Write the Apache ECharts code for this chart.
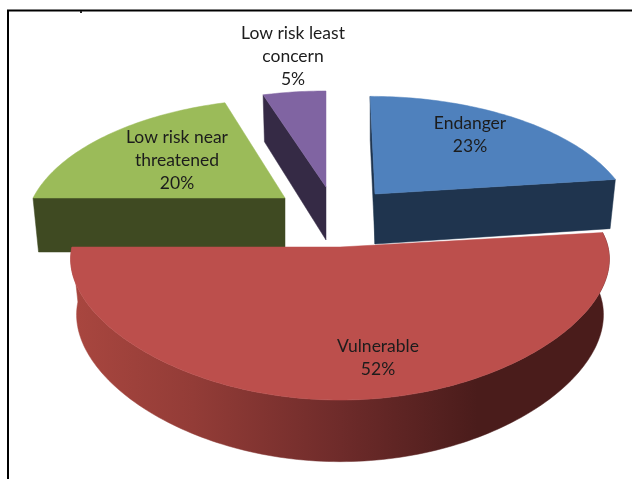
<!DOCTYPE html>
<html>
<head>
<meta charset="utf-8">
<style>html,body{margin:0;padding:0;background:#fff}#chart{width:632px;height:479px}</style>
<script src="https://cdn.jsdelivr.net/npm/echarts@6/dist/echarts.min.js"></script>
</head>
<body>
<div id="chart"></div>
<script>
// Conservation status shares, in percent, clockwise from twelve o'clock.
const categories = ['Endanger', 'Vulnerable', 'Low risk near\nthreatened', 'Low risk least\nconcern'];
const shares = [23, 52, 20, 5];

const topColors = ['#4f81bd', '#bc4f4c', '#9bbb59', '#8064a2'];
const sideColors = ['#1f344e', '#4a1c1b', '#3f4a22', '#352a45'];

// Tilted-disc projection: pivot is the exploded slice's point, rx/ry the disc radii,
// skew the lean of its depth axis, wall the extruded thickness, foreshorten the
// horizontal perspective, and walls the cut faces that can be seen from the viewpoint.
const PERSPECTIVE = 0.229;
const BASE_SHRINK = 0.978;
const WALL_GROWTH = 0.12;
const sliceLayout = [
  { pivot: [375, 194], rx: 250, ry: 120, skew: 6, wall: 50, foreshorten: PERSPECTIVE, walls: [true, true], rim: false, z: 3, labelAt: [470, 135] },
  { pivot: [340, 247], rx: 268, ry: 118, skew: 0, wall: 55, foreshorten: 0.1, walls: [false, false], rim: true, z: 4, labelAt: [378, 358] },
  { pivot: [285, 198], rx: 252, ry: 122, skew: -5, wall: 54, foreshorten: PERSPECTIVE, walls: [true, false], rim: false, z: 2, labelAt: [177, 160] },
  { pivot: [326, 187], rx: 248, ry: 118, skew: 0, wall: 53, foreshorten: PERSPECTIVE, walls: [true, false], rim: false, z: 1, labelAt: [293, 56] }
];

// Cumulative start of each slice, in percent of the full turn.
const starts = shares.map((_, i) => shares.slice(0, i).reduce((a, b) => a + b, 0));
const total = shares.reduce((a, b) => a + b, 0);

function groundPoint(share) {
  const a = share / total * Math.PI * 2;
  return [Math.sin(a), -Math.cos(a)];
}
function topPoint(layout, u, v) {
  return [
    layout.pivot[0] + (layout.rx * u + layout.skew * v) / (1 - layout.foreshorten * v),
    layout.pivot[1] + layout.ry * v / (1 - PERSPECTIVE * v)
  ];
}
function basePoint(layout, u, v) {
  const p = topPoint(layout, u, v);
  return [
    layout.pivot[0] + (p[0] - layout.pivot[0]) * BASE_SHRINK,
    p[1] + layout.wall * (1 + WALL_GROWTH * v)
  ];
}

function renderSlice(params, api) {
  const i = params.dataIndex;
  const layout = sliceLayout[i];
  const share = api.value(0);
  const start = api.value(1);
  const steps = Math.max(8, Math.round(share * 3));
  const arc = [];
  for (let s = 0; s <= steps; s++) {
    arc.push(groundPoint(start + share * s / steps));
  }
  const topArc = arc.map(g => topPoint(layout, g[0], g[1]));
  const baseArc = arc.map(g => basePoint(layout, g[0], g[1]));
  const pivotTop = topPoint(layout, 0, 0);
  const pivotBase = basePoint(layout, 0, 0);

  const face = (points, fill, z2) => ({
    type: 'polygon',
    z2: layout.z * 10 + z2,
    shape: { points },
    style: { fill, stroke: fill, lineWidth: 0.5 }
  });

  const children = [];
  if (layout.rim) {
    // The large front slice carries a left-to-right shaded rim.
    const rimFill = new echarts.graphic.LinearGradient(77, 0, 604, 0, [
      { offset: 0, color: '#a8463f' },
      { offset: 0.22, color: '#933c37' },
      { offset: 0.5, color: '#6e2b2a' },
      { offset: 0.76, color: '#4a1c1b' },
      { offset: 1, color: '#4a1c1b' }
    ], true);
    children.push(face(topArc.concat(baseArc.slice().reverse()), rimFill, 0));
  }
  if (layout.walls[0]) {
    children.push(face([pivotTop, topArc[0], baseArc[0], pivotBase], sideColors[i], 1));
  }
  if (layout.walls[1]) {
    children.push(face([pivotTop, topArc[steps], baseArc[steps], pivotBase], sideColors[i], 1));
  }
  children.push(face([pivotTop].concat(topArc), topColors[i], 2));
  children.push({
    type: 'text',
    z2: 100,
    style: {
      x: layout.labelAt[0],
      y: layout.labelAt[1],
      text: categories[i] + '\n' + share + '%',
      align: 'center',
      verticalAlign: 'middle',
      font: '17.5px Lato, "Open Sans", sans-serif',
      lineHeight: 23,
      fill: '#1c1c1c'
    }
  });
  return { type: 'group', children };
}

const chart = echarts.init(document.getElementById('chart'), null, { renderer: 'canvas' });
chart.setOption({
  animation: false,
  backgroundColor: '#ffffff',
  tooltip: { show: false },
  graphic: [
    // Chart frame: only the top and left rules are in view.
    { type: 'line', silent: true, shape: { x1: 7, y1: 10.5, x2: 632, y2: 10.5 }, style: { stroke: '#000', lineWidth: 2 } },
    { type: 'line', silent: true, shape: { x1: 8, y1: 10, x2: 8, y2: 479 }, style: { stroke: '#000', lineWidth: 2 } },
    { type: 'rect', silent: true, shape: { x: 80, y: 11, width: 2, height: 2 }, style: { fill: '#222' } }
  ],
  series: [{
    type: 'custom',
    coordinateSystem: 'none',
    silent: true,
    renderItem: renderSlice,
    data: shares.map((share, i) => [share, starts[i]])
  }]
});
</script>
</body>
</html>
